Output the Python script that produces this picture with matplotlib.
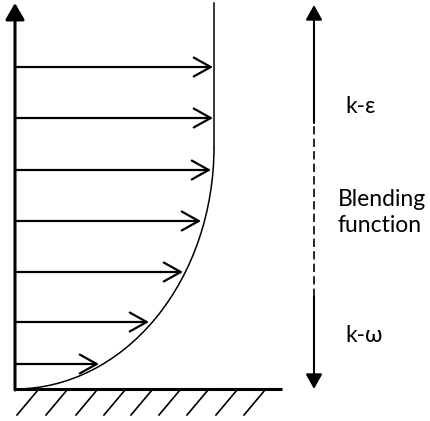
import matplotlib
matplotlib.use("Agg")
import matplotlib.pyplot as plt
from matplotlib.patches import Arc, FancyArrowPatch

# --- data (pixel-ish units, origin at the wall / left axis) ---
heights = [25, 67, 117, 168, 219, 271, 322]          # arrow heights above wall
velocities = [84, 134, 168, 186, 196, 198, 198]      # arrow lengths (velocity)
u_max = 199                                          # free-stream velocity
layer_top = 242                                      # edge of boundary layer
hatch_x = [23, 52, 82, 110, 137, 165, 193, 222, 250]  # wall hatch positions

zone_x = 299
zone_bounds = [0, 92, 266, 384]   # k-w | blending | k-e
zone_labels = ["k-ω", "Blending", "function", "k-ε"]

# --- figure ---
fig = plt.figure(figsize=(4.30, 4.21), dpi=100)
ax = fig.add_axes([0, 0, 1, 1])
ax.set_xlim(-15, 415)
ax.set_ylim(-32, 389)
ax.axis('off')

# wall + hatching
ax.plot([-1, 267], [0, 0], color='black', lw=2.2, solid_capstyle='butt')
for hx in hatch_x:
    ax.plot([hx, hx - 21], [-1, -26], color='black', lw=1.2)

# y axis with filled head
ax.add_patch(FancyArrowPatch((0, -1), (0, 386), arrowstyle='-|>,head_length=1.0,head_width=0.58',
                             mutation_scale=10, lw=2.2, color='black',
                             shrinkA=0, shrinkB=0))

# velocity profile: quarter ellipse + straight part
ax.add_patch(Arc((0, layer_top), 2 * u_max, 2 * layer_top, theta1=270, theta2=360,
                 color='black', lw=1.1))
ax.plot([u_max, u_max], [layer_top, 386], color='black', lw=1.1)

# velocity arrows
for h, u in zip(heights, velocities):
    ax.add_patch(FancyArrowPatch((0, h), (u, h), arrowstyle='->,head_length=1.22,head_width=0.68',
                                 mutation_scale=10, lw=1.6, color='black',
                                 shrinkA=0, shrinkB=0))

# zone arrow on the right
ax.add_patch(FancyArrowPatch((zone_x, zone_bounds[2]), (zone_x, zone_bounds[3]),
                             arrowstyle='-|>,head_length=0.9,head_width=0.5',
                             mutation_scale=10, lw=1.5, color='black',
                             shrinkA=0, shrinkB=0))
ax.add_patch(FancyArrowPatch((zone_x, zone_bounds[1]), (zone_x, zone_bounds[0]),
                             arrowstyle='-|>,head_length=0.9,head_width=0.5',
                             mutation_scale=10, lw=1.5, color='black',
                             shrinkA=0, shrinkB=0))
ax.plot([zone_x, zone_x], [zone_bounds[1], zone_bounds[2]], color='black', lw=1.2,
        linestyle=(0, (5, 2.5)))

# labels
font = dict(family='Lato', fontsize=16.5, color='black', va='baseline', ha='left')
ax.text(330, 276, zone_labels[3], **font)
ax.text(323, 183, zone_labels[1], **font)
ax.text(323, 157, zone_labels[2], **font)
ax.text(330, 47, zone_labels[0], **font)

fig.savefig("out.png", dpi=100)
